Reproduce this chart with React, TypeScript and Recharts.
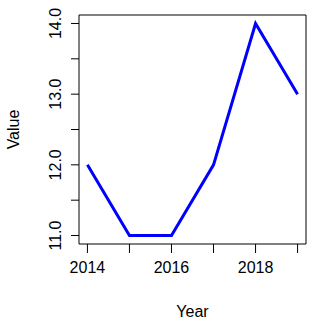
import { LineChart, Line, XAxis, YAxis, ReferenceArea, Label } from "recharts";

const years = [2014, 2015, 2016, 2017, 2018, 2019];
const values = [12, 11, 11, 12, 14, 13];
const yTicks = [11, 11.5, 12, 12.5, 13, 13.5, 14];
const xLabelYears = [2014, 2016, 2018];

const data = years.map((y, i) => ({ year: y, value: values[i] }));

const font = "'Liberation Sans', Arial, sans-serif";

const XTick = (props: any) => {
  const { x, y, payload } = props;
  if (!xLabelYears.includes(payload.value)) return null;
  return (
    <text x={x} y={y + 18} textAnchor="middle" fontSize={16} fontFamily={font} fill="#000">
      {payload.value}
    </text>
  );
};

const YTick = (props: any) => {
  const { x, y, payload } = props;
  if (!Number.isInteger(payload.value)) return null;
  const tx = x - 8;
  return (
    <text
      x={tx}
      y={y}
      transform={`rotate(-90, ${tx}, ${y})`}
      textAnchor="middle"
      fontSize={16}
      fontFamily={font}
      fill="#000"
    >
      {payload.value.toFixed(1)}
    </text>
  );
};

export default function App() {
  return (
    <div style={{ position: "absolute", left: 0, top: 0, background: "#fff" }}>
      <LineChart width={315} height={324} data={data} margin={{ top: 15, right: 9, left: 0, bottom: 0 }}>
        <XAxis
          dataKey="year"
          type="number"
          domain={[2013.8, 2019.2]}
          ticks={years}
          allowDataOverflow
          height={80}
          axisLine={false}
          tickLine={{ stroke: "#000" }}
          tickSize={9}
          tick={<XTick />}
        >
          <Label
            content={(p: any) => {
              const vb = p.viewBox;
              return (
                <text x={vb.x + vb.width / 2} y={317} textAnchor="middle" fontSize={16} fontFamily={font} fill="#000">
                  Year
                </text>
              );
            }}
          />
        </XAxis>
        <YAxis
          type="number"
          domain={[10.88, 14.12]}
          ticks={yTicks}
          allowDataOverflow
          width={79}
          axisLine={false}
          tickLine={{ stroke: "#000" }}
          tickSize={8}
          tick={<YTick />}
        >
          <Label
            content={(p: any) => {
              const vb = p.viewBox;
              const cy = vb.y + vb.height / 2;
              return (
                <text
                  x={19}
                  y={cy}
                  transform={`rotate(-90, 19, ${cy})`}
                  textAnchor="middle"
                  fontSize={16}
                  fontFamily={font}
                  fill="#000"
                >
                  Value
                </text>
              );
            }}
          />
        </YAxis>
        <ReferenceArea
          x1={2013.8}
          x2={2019.2}
          y1={10.88}
          y2={14.12}
          fill="none"
          stroke="#000"
          strokeWidth={1}
          ifOverflow="visible"
        />
        <Line
          dataKey="value"
          stroke="#0000FF"
          strokeWidth={3}
          dot={false}
          isAnimationActive={false}
        />
      </LineChart>
    </div>
  );
}
